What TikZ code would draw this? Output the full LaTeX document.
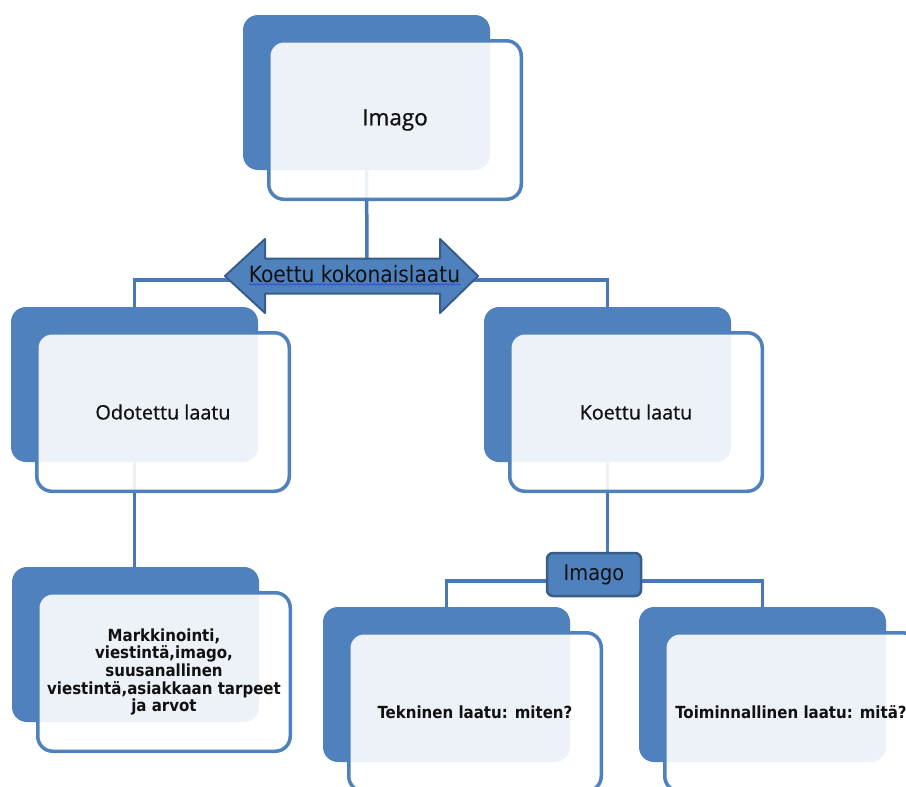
\documentclass[tikz,border=0pt]{standalone}
\usepackage{fontspec}
\setmainfont{DejaVu Sans}
\newfontfamily\fA[FakeBold=0.8]{Open Sans}
\newfontfamily\fB{DejaVu Sans Condensed}
\usetikzlibrary{calc,decorations.pathmorphing}
\definecolor{boxblue}{HTML}{4F81BD}
\definecolor{connblue}{HTML}{4679B6}
\definecolor{darkblue}{HTML}{385D8A}
\definecolor{wavy}{HTML}{2F45D8}
\definecolor{txt}{HTML}{111111}
\pgfdeclarelayer{lines}
\pgfsetlayers{lines,main}
\tikzset{
  backbox/.style={rectangle, fill=boxblue, draw=none, rounded corners=15pt,
    minimum width=247pt, minimum height=155pt, inner sep=0pt},
  frontbox/.style={rectangle, draw=boxblue, line width=3.5pt, fill=white,
    fill opacity=0.9, text opacity=1, rounded corners=15pt, text=txt,
    minimum width=252.5pt, minimum height=158.5pt, inner sep=0pt, align=center},
  conn/.style={draw=connblue, line width=3.5pt},
  smallbox/.style={rectangle, fill=boxblue, draw=darkblue, line width=2.5pt,
    rounded corners=6pt, minimum width=94pt, minimum height=43pt, inner sep=0pt,
    text=txt, font=\fB\fontsize{21.5}{24}\selectfont},
  arrowshape/.style={fill=boxblue, draw=darkblue, line width=2pt, line join=round},
}
\newcommand\qbox[5]{%
  \node[backbox] (#1b) at ({#2+123.5},{#3+77.5}) {};
  \node[frontbox, font=#4] (#1) at ({#2+152},{#3+105}) {#5};
}
\begin{document}
\begin{tikzpicture}[x=1pt,y=-1pt]
\useasboundingbox (0,0) rectangle (906,787);

% boxes
\qbox{top}{243}{15}{\fA\fontsize{22.5}{26}\selectfont}{Imago}
\qbox{odo}{11}{307}{\fA\fontsize{19.8}{23}\selectfont}{Odotettu laatu}
\qbox{koe}{484}{307}{\fA\fontsize{19.8}{23}\selectfont}{Koettu laatu}
\qbox{mark}{12}{567}{\fB\bfseries\fontsize{16.7}{17.7}\selectfont}{Markkinointi,\\viestintä,imago,\\suusanallinen\\viestintä,asiakkaan tarpeet\\ja arvot}
\qbox{tek}{323}{607}{\fB\bfseries\fontsize{16.7}{19}\selectfont}{Tekninen laatu: miten?}
\qbox{toi}{639}{607}{\fB\bfseries\fontsize{16.7}{19}\selectfont}{Toiminnallinen laatu: mitä?}

% double arrow
\draw[arrowshape] (225,276) -- (265,239) -- (265,258.5) -- (440,258.5) -- (440,239)
  -- (478,276) -- (440,313) -- (440,293.5) -- (265,293.5) -- (265,313) -- cycle;
\node[inner sep=0pt, text=txt, font=\fB\fontsize{22.5}{24}\selectfont] (kok) at (354.5,274) {Koettu kokonaislaatu};
\draw[wavy, line width=0.7pt, decorate, decoration={snake, amplitude=0.9pt, segment length=4pt}]
  ($(kok.south west)+(0,1.5)$) -- ($(kok.south east)+(0,1.5)$);
\coordinate (arrTop) at (367,259);
\coordinate (arrL) at (230,280);
\coordinate (arrR) at (473,280);

% small Imago box
\node[smallbox] (img) at (594,574.5) {Imago};

% connectors
\begin{pgfonlayer}{lines}
\fill[white] (0,0) rectangle (906,787);
\draw[conn] (topb.south) -- (arrTop);
\draw[conn] (arrL) -| (odob.north);
\draw[conn] (arrR) -| (koeb.north);
\draw[conn] (odob.south) -- (odob.south |- markb.north);
\draw[conn] (koeb.south) -- (koeb.south |- img.north);
\draw[conn] ($(img.west)+(0,6.5)$) -| (tekb.north);
\draw[conn] ($(img.east)+(0,6.5)$) -| (toib.north);
\end{pgfonlayer}
\end{tikzpicture}
\end{document}
